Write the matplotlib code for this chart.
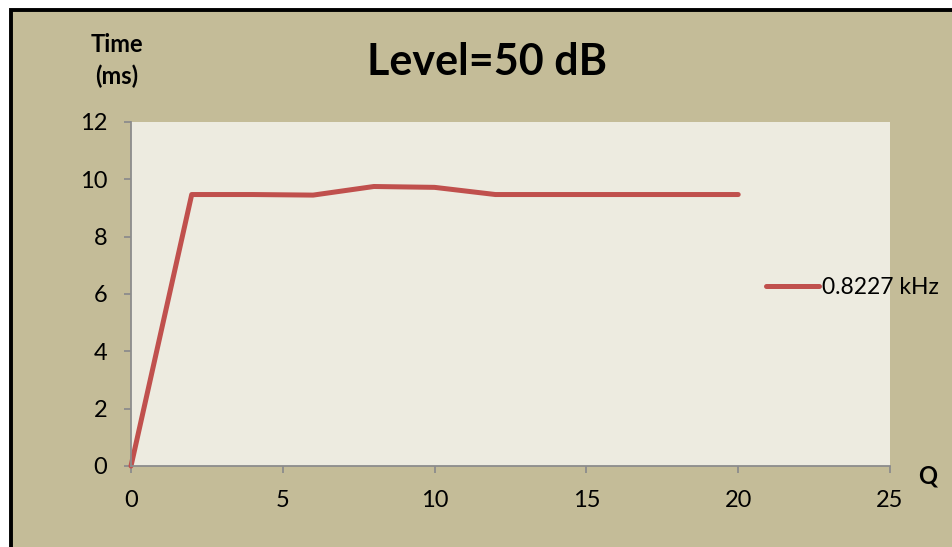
import matplotlib.pyplot as plt
from matplotlib.patches import Rectangle

# data
q_values = [0, 2, 4, 6, 8, 10, 12, 14, 16, 18, 20]
time_ms = [0, 9.47, 9.47, 9.45, 9.75, 9.72, 9.47, 9.47, 9.47, 9.47, 9.47]
series_label = '0.8227 kHz'
x_ticks = [0, 5, 10, 15, 20, 25]
y_ticks = [0, 2, 4, 6, 8, 10, 12]

plt.rcParams['font.family'] = ['Lato', 'DejaVu Sans']

W, H = 952, 547
fig = plt.figure(figsize=(W / 100, H / 100), dpi=100, facecolor='white')

# tan panel with black frame on top/left
fig.patches.append(Rectangle((10.5 / W, -0.1), 1.2, (H - 10) / H + 0.1,
                             transform=fig.transFigure, facecolor='#C4BC98',
                             edgecolor='black', linewidth=2.8, zorder=-10))

ax = fig.add_axes([131 / W, (H - 466) / H, (890 - 131) / W, (466 - 122) / H])
ax.set_facecolor('#EDEBE0')

ax.plot(q_values, time_ms, color='#C0504D', linewidth=3.6,
        solid_capstyle='round', label=series_label, clip_on=False)

ax.set_xlim(0, 25)
ax.set_ylim(0, 12)
ax.set_xticks(x_ticks)
ax.set_yticks(y_ticks)

for s in ['top', 'right']:
    ax.spines[s].set_visible(False)
for s in ['left', 'bottom']:
    ax.spines[s].set_color('#8C8C8C')
    ax.spines[s].set_linewidth(1.3)
ax.tick_params(axis='both', colors='#8C8C8C', length=5, width=1.3,
               labelsize=17, labelcolor='black')
ax.tick_params(axis='x', pad=12)
ax.tick_params(axis='y', pad=12)

fig.text(487 / W, 1 - 62 / H, 'Level=50 dB', fontsize=31, fontweight='bold',
         ha='center', va='center')
fig.text(117 / W, 1 - 44 / H, 'Time', fontsize=17, fontweight='bold',
         ha='center', va='center')
fig.text(117 / W, 1 - 76 / H, '(ms)', fontsize=17, fontweight='bold',
         ha='center', va='center')
fig.text(928 / W, 1 - 476 / H, 'Q', fontsize=17, fontweight='bold',
         ha='center', va='center')

ax.legend(loc='center left', bbox_to_anchor=(766 / W, 1 - 288 / H),
          bbox_transform=fig.transFigure, frameon=False, fontsize=16.5,
          borderpad=0, borderaxespad=0, handlelength=2.3, handletextpad=0.15)

fig.savefig('out.png', dpi=100, facecolor=fig.get_facecolor())
